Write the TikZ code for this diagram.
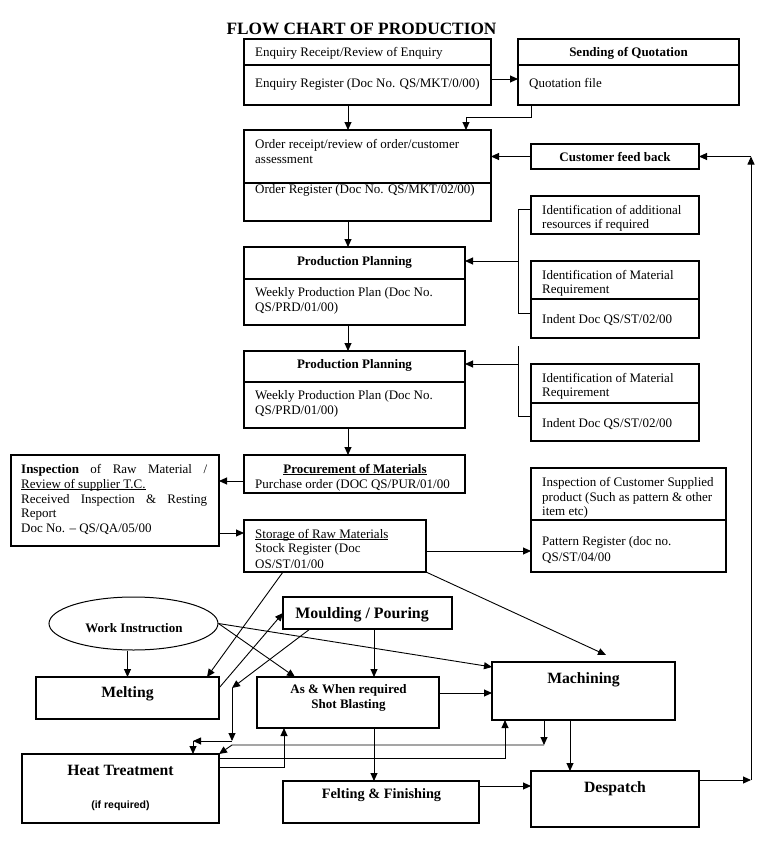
\documentclass[tikz,border=0pt]{standalone}
\usepackage{fontspec}
\setmainfont{Liberation Serif}
\setsansfont{Liberation Sans}
\usetikzlibrary{arrows.meta,fit,shapes.geometric}
\newsavebox\ulbox
\newcommand\ulin[1]{\sbox\ulbox{#1}\rlap{\rule[-1.8pt]{\wd\ulbox}{0.7pt}}\usebox\ulbox}
\begin{document}
\begin{tikzpicture}[x=1pt,y=-1pt,
  box/.style={draw, line width=1.1pt, inner sep=0pt, outer sep=0pt},
  divline/.style={line width=1.1pt},
  arr/.style={-{Triangle[length=8pt,width=7pt]}, line width=0.9pt},
  ln/.style={line width=0.9pt},
  txt/.style={inner sep=0pt, anchor=base west, font=\fontsize{13}{15}\selectfont},
  ctxt/.style={inner sep=0pt, anchor=base, font=\bfseries\fontsize{13}{15}\selectfont},
  big/.style={inner sep=0pt, anchor=base, font=\bfseries\fontsize{15.7}{18}\selectfont},
]
\useasboundingbox (0,0) rectangle (762,843);

% title
\node[inner sep=0pt, anchor=base, font=\bfseries\fontsize{17.3}{20}\selectfont] (title) at (361.5,35) {FLOW CHART OF PRODUCTION};

% ---------- boxes ----------
\node[box, fit={(244,39)(491,105)}] (enq) {};
\draw[divline] (enq.west |- 0,65) -- (enq.east |- 0,65);
\node[txt] (enq1) at (255,57) {Enquiry Receipt/Review of Enquiry};
\node[txt] (enq2) at (255,87) {Enquiry Register (Doc No. QS/MKT/0/00)};

\node[box, fit={(518,39)(739,105)}] (quot) {};
\draw[divline] (quot.west |- 0,65) -- (quot.east |- 0,65);
\node[ctxt] (quot1) at (628.5,57) {Sending of Quotation};
\node[txt] (quot2) at (529,87) {Quotation file};

\node[box, fit={(244,130)(491,221)}] (ord) {};
\draw[divline] (ord.west |- 0,183) -- (ord.east |- 0,183);
\node[txt] (ord1) at (255,148) {Order receipt/review of order/customer};
\node[txt] (ord2) at (255,163) {assessment};
\node[txt] (ord3) at (255,193) {Order Register (Doc No. QS/MKT/02/00)};

\node[box, fit={(531,144)(699,169)}] (fb) {};
\node[ctxt] (fb1) at (615,161) {Customer feed back};

\node[box, fit={(244,247)(465,325)}] (pp1) {};
\draw[divline] (pp1.west |- 0,279) -- (pp1.east |- 0,279);
\node[ctxt] (pp1a) at (354.5,265) {Production Planning};
\node[txt] (pp1b) at (255,296) {Weekly Production Plan (Doc No.};
\node[txt] (pp1c) at (255,311) {QS/PRD/01/00)};

\node[box, fit={(531,196)(699,234)}] (add) {};
\node[txt] (add1) at (542,214) {Identification of additional};
\node[txt] (add2) at (542,228) {resources if required};

\node[box, fit={(531,261)(699,338)}] (mat1) {};
\draw[divline] (mat1.west |- 0,299) -- (mat1.east |- 0,299);
\node[txt] (mat1a) at (542,279) {Identification of Material};
\node[txt] (mat1b) at (542,293) {Requirement};
\node[txt] (mat1c) at (542,323) {Indent Doc QS/ST/02/00};

\node[box, fit={(244,351)(465,428)}] (pp2) {};
\draw[divline] (pp2.west |- 0,382) -- (pp2.east |- 0,382);
\node[ctxt] (pp2a) at (354.5,368) {Production Planning};
\node[txt] (pp2b) at (255,399) {Weekly Production Plan (Doc No.};
\node[txt] (pp2c) at (255,414) {QS/PRD/01/00)};

\node[box, fit={(531,364)(699,441)}] (mat2) {};
\draw[divline] (mat2.west |- 0,403) -- (mat2.east |- 0,403);
\node[txt] (mat2a) at (542,382) {Identification of Material};
\node[txt] (mat2b) at (542,396) {Requirement};
\node[txt] (mat2c) at (542,427) {Indent Doc QS/ST/02/00};

\node[box, fit={(244,455)(465,493)}] (proc) {};
\node[ctxt] (proc1) at (355,473) {\ulin{Procurement of Materials}};
\node[txt] (proc2) at (255,488) {Purchase order (DOC QS/PUR/01/00};

\node[box, fit={(11,455)(219,546)}] (insp) {};
\node[txt] (insp1) at (21,473) {\hbox to 186pt{\textbf{Inspection}\hfill of\hfill Raw\hfill Material\hfill /}};
\node[txt] (insp2) at (21,488) {\ulin{Review of supplier T.C.}};
\node[txt] (insp3) at (21,503) {\hbox to 186pt{Received\hfill Inspection\hfill \&\hfill Resting}};
\node[txt] (insp4) at (21,517) {Report};
\node[txt] (insp5) at (21,532) {Doc No. – QS/QA/05/00};

\node[box, fit={(244,520)(426,572)}] (stor) {};
\node[txt] (stor1) at (255,538) {\ulin{Storage of Raw Materials}};
\node[txt] (stor2) at (255,552) {Stock Register (Doc};
\begin{scope}
\clip (244,520) rectangle (426,567.5);
\node[txt] (stor3) at (255,568.5) {QS/ST/01/00};
\end{scope}

\node[box, fit={(531,468)(726,572)}] (cust) {};
\draw[divline] (cust.west |- 0,520) -- (cust.east |- 0,520);
\node[txt] (cust1) at (542,486) {Inspection of Customer Supplied};
\node[txt] (cust2) at (542,501) {product (Such as pattern \& other};
\node[txt] (cust3) at (542,515) {item etc)};
\node[txt] (cust4) at (542,545) {Pattern Register (doc no.};
\node[txt] (cust5) at (542,561) {QS/ST/04/00};

\node[draw, ellipse, line width=1pt, inner sep=0pt, minimum width=169pt, minimum height=53pt] (wi) at (133.5,623.5) {};
\node[ctxt] (wi1) at (134,632) {Work Instruction};

\node[box, fit={(36,677)(219,719)}] (melt) {};
\node[big] (melt1) at (127.5,697) {Melting};

\node[box, fit={(283,597)(452,629)}] (mould) {};
\node[big, font=\bfseries\fontsize{15.9}{18}\selectfont] (mould1) at (362,618) {Moulding / Pouring};

\node[box, fit={(257,677)(439,728)}] (shot) {};
\node[ctxt] (shot1) at (348.5,693) {As \& When required};
\node[ctxt] (shot2) at (348.5,708) {Shot Blasting};

\node[box, fit={(492,662)(675,720)}] (mach) {};
\node[big] (mach1) at (583.5,683) {Machining};

\node[box, fit={(22,754)(219,823)}] (heat) {};
\node[big] (heat1) at (120.5,775) {Heat Treatment};
\node[inner sep=0pt, anchor=base, font=\sffamily\bfseries\fontsize{10.5}{12}\selectfont] (heat2) at (120.5,808) {(if required)};

\node[box, fit={(283,781)(479,823)}] (felt) {};
\node[big, font=\bfseries\fontsize{14.3}{17}\selectfont] (felt1) at (381.5,798) {Felting \& Finishing};

\node[box, fit={(531,771)(699,827)}] (desp) {};
\node[big] (desp1) at (615,792) {Despatch};

% ---------- helper coordinates ----------
\coordinate (q1) at (466,117);
\coordinate (rb) at (751,780);
\coordinate (rt) at (751,156.5);
\coordinate (b1t) at (518,209);
\coordinate (b1m) at (518,261);
\coordinate (b1b) at (518,313);
\coordinate (b2t) at (518,346);
\coordinate (b2m) at (518,364);
\coordinate (b2b) at (518,416);
\coordinate (m1) at (232,688);
\coordinate (m2) at (232,741);
\coordinate (m3) at (193,741);
\coordinate (mt) at (606,655);
\coordinate (h1) at (544,745);
\coordinate (h2) at (232,745);

% ---------- connectors (top) ----------
\draw[arr] (enq.east |- 0,79) -- (quot.west |- 0,79);
\draw[arr] (enq.south -| 348,0) -- (ord.north -| 348,0);
\draw[arr] (quot.south -| 531,0) |- (q1) -- (ord.north -| q1);
\draw[arr] (fb.west) -- (ord.east |- fb.west);
\draw[arr] (desp.east |- rb) -- (rb);
\draw[arr] (rb) -- (rt);
\draw[arr] (rt) -- (fb.east);

\draw[arr] (ord.south -| 348,0) -- (pp1.north -| 348,0);
\draw[ln] (add.west |- b1t) -- (b1t) -- (b1b) -- (mat1.west |- b1b);
\draw[arr] (b1m) -- (pp1.east |- b1m);
\draw[arr] (pp1.south -| 348,0) -- (pp2.north -| 348,0);
\draw[ln] (b2t) -- (b2b) -- (mat2.west |- b2b);
\draw[arr] (b2m) -- (pp2.east |- b2m);
\draw[arr] (pp2.south -| 348,0) -- (proc.north -| 348,0);

\draw[arr] (proc.west |- 0,481) -- (insp.east |- 0,481);
\draw[arr] (insp.east |- 0,533) -- (stor.west |- 0,533);
\draw[arr] (stor.east |- 0,551) -- (cust.west |- 0,551);

% ---------- connectors (bottom) ----------
\draw[arr] (wi.south -| melt.north) -- (melt.north);
\draw[arr] (stor.south -| 283,0) -- (melt.north -| 207,0);
\draw[arr] (melt.east |- 0,688) -- (mould.west |- 0,613);
\draw[arr] (mould.south -| 310,0) -- (m1);
\draw[arr] (m1) -- (m2);
\draw[arr] (m2) -- (m3);
\draw[arr] (m3) -- (heat.north -| m3);
\draw[arr] (wi.east) -- (shot.north -| 295,0);
\draw[arr] (wi.east) -- (mach.west |- 0,667);
\draw[arr] (stor.south east) -- (mt);
\draw[arr] (mould.south -| 374,0) -- (shot.north -| 374,0);
\draw[arr] (shot.east |- 0,693) -- (mach.west |- 0,693);
\draw[arr] (shot.south -| 374,0) -- (felt.north -| 374,0);
\draw[arr] (felt.east |- 0,786) -- (desp.west |- 0,786);
\draw[arr] (mach.south -| 570,0) -- (desp.north -| 570,0);
\draw[arr] (mach.south -| h1) -- (h1);
\draw[arr] (h1) -- (h2) -- (heat.north east);
\draw[arr] (heat.east |- 0,758) -| (mach.south -| 505,0);
\draw[arr] (heat.east |- 0,767) -| (shot.south -| 284,0);
\end{tikzpicture}
\end{document}
